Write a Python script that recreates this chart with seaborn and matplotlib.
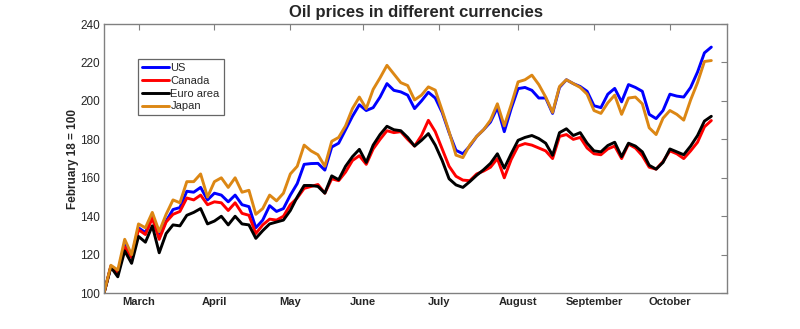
import numpy as np
import pandas as pd
import matplotlib
matplotlib.use("Agg")
import matplotlib.pyplot as plt
import seaborn as sns

# trading-day index since February 18 (every second trading day)
trading_day = np.arange(0, 177, 2)

us = [100, 114, 110.5, 126, 119, 134, 131.5, 140, 129.5, 137.5, 143.5, 144.5, 153, 152.5, 155,
      148.5, 152, 151, 147.5, 151, 146, 145, 134, 138, 145.5, 142.5, 144, 151, 157,
      167, 167.4, 167.5, 164, 176, 178, 185, 192, 198, 195, 196.5, 202, 209, 205.5,
      204.7, 203, 196, 200, 204.5, 201.5, 194, 183.5, 174.3, 172.5, 176.5, 181.5, 185, 189,
      196.5, 184, 196, 206.4, 207, 205.5, 201.5, 201.5, 193.5, 207, 211, 209, 207.5, 205,
      197.5, 196.5, 203.5, 206.5, 199.5, 208.5, 207, 205, 193, 190.8, 195, 203.5, 202.5, 202,
      207, 215, 225, 228]

canada = [100, 114, 110, 124, 118.5, 133, 130.5, 139, 128, 137, 141, 142.5, 149.5, 148.5, 151,
          146, 147.5, 147, 143, 147, 141.5, 140.5, 131, 135.5, 138.5, 138, 140, 146, 149.5,
          154.5, 155.5, 156.5, 152, 159.5, 158.5, 163, 169, 171.5, 167, 175, 180, 184.5, 183.5,
          184, 180, 176.5, 182, 189.9, 184, 175, 166, 160.8, 158.8, 158.5, 162, 163.5, 165.5,
          170, 160, 169.5, 176.5, 177.8, 177, 175.5, 174, 170, 181.5, 182.5, 180, 181, 175.5,
          172.5, 172, 175, 176.5, 170, 177.5, 175.5, 171.5, 165.5, 164.5, 168.5, 174, 172.5, 170,
          174, 178.5, 186.5, 189.8]

euro_area = [100, 113.5, 108.5, 122, 115.5, 129.5, 126.5, 135, 121, 131, 135.5, 135, 140.5, 142, 144,
             136, 137.5, 140, 135.5, 140, 136, 135.5, 128.5, 132.5, 136, 137, 138, 143, 150,
             156, 156, 155.5, 152, 161, 159, 166, 171, 174.8, 168, 177, 182.5, 186.8, 185,
             184.5, 181, 176.5, 179.5, 183, 177, 169, 159.5, 156.3, 155, 158, 161.3, 164.2, 167.5,
             172.5, 165, 172.5, 179.5, 181, 182, 180.4, 178, 171.7, 183.5, 185.5, 182, 183.5, 178,
             174, 173.5, 176.8, 178.5, 171, 178, 176.5, 173.5, 166.5, 164.5, 168, 175, 173.5, 172,
             176.5, 182, 189.5, 192]

japan = [100, 114.5, 112, 128, 120, 136, 134, 142, 132, 141, 148.5, 147, 158, 158, 162,
         150, 158, 160, 155, 160, 152.5, 153.5, 141, 144, 151, 148, 152, 162, 166,
         177, 174, 172, 166, 179, 181, 187, 196, 202, 196, 206, 212, 218.5, 214,
         209.5, 208, 200.5, 203, 207.3, 205.6, 195, 184, 171.8, 170.5, 177, 181.5, 185, 190,
         198.5, 187, 198, 209.9, 211, 213.4, 208.5, 202, 194, 207.5, 211, 209, 207, 203.5,
         195, 193.5, 199, 203, 193, 201.5, 202, 198.5, 186, 182.5, 191, 195, 193, 190,
         200.5, 209.5, 220.5, 221]

series_names = ["US", "Canada", "Euro area", "Japan"]
series_colors = ["#0000FF", "#FF0000", "#000000", "#DC8714"]
month_labels = ["March", "April", "May", "June", "July", "August", "September", "October"]
month_ticks = [10, 32, 54, 75, 97, 120, 142, 164]
y_ticks = [100, 120, 140, 160, 180, 200, 220, 240]

df = pd.concat(
    [pd.DataFrame({"day": trading_day, "value": vals, "series": name})
     for name, vals in zip(series_names, [us, canada, euro_area, japan])],
    ignore_index=True,
)

sns.set_style("white")
plt.rcParams["font.family"] = ["Liberation Sans", "DejaVu Sans"]

fig = plt.figure(figsize=(8, 3.29), dpi=100)
ax = fig.add_axes([0.13, 0.109, 0.779, 0.818])

sns.lineplot(data=df, x="day", y="value", hue="series", hue_order=series_names,
             palette=series_colors, linewidth=2.1, ax=ax, legend=True)

ax.set_xlim(0, 180.6)
ax.set_ylim(100, 240)
ax.set_xticks(month_ticks)
ax.set_xticklabels(month_labels, fontweight="bold", fontsize=8)
ax.set_yticks(y_ticks)
ax.set_yticklabels([str(t) for t in y_ticks], fontsize=8.5)
ax.set_xlabel("")
ax.set_ylabel("February 18 = 100", fontsize=8.5, fontweight="bold", labelpad=1)
ax.set_title("Oil prices in different currencies", fontsize=12, fontweight="bold", pad=5)

for sp in ax.spines.values():
    sp.set_color("#808080")
    sp.set_linewidth(1.0)
    sp.set_visible(True)
ax.tick_params(direction="in", top=True, right=True, length=4, color="#808080",
               width=0.8, pad=3)

handles, labels = ax.get_legend_handles_labels()
leg = ax.legend(handles, labels, loc="upper left", bbox_to_anchor=(0.055, 0.869),
                borderaxespad=0, frameon=True, fancybox=False, fontsize=8,
                handlelength=2.4, handletextpad=0.15, labelspacing=0.25,
                borderpad=0.35)
leg.get_frame().set_edgecolor("#404040")
leg.get_frame().set_linewidth(0.9)
for line in leg.get_lines():
    line.set_linewidth(2.1)

fig.savefig("out.png", dpi=100)
